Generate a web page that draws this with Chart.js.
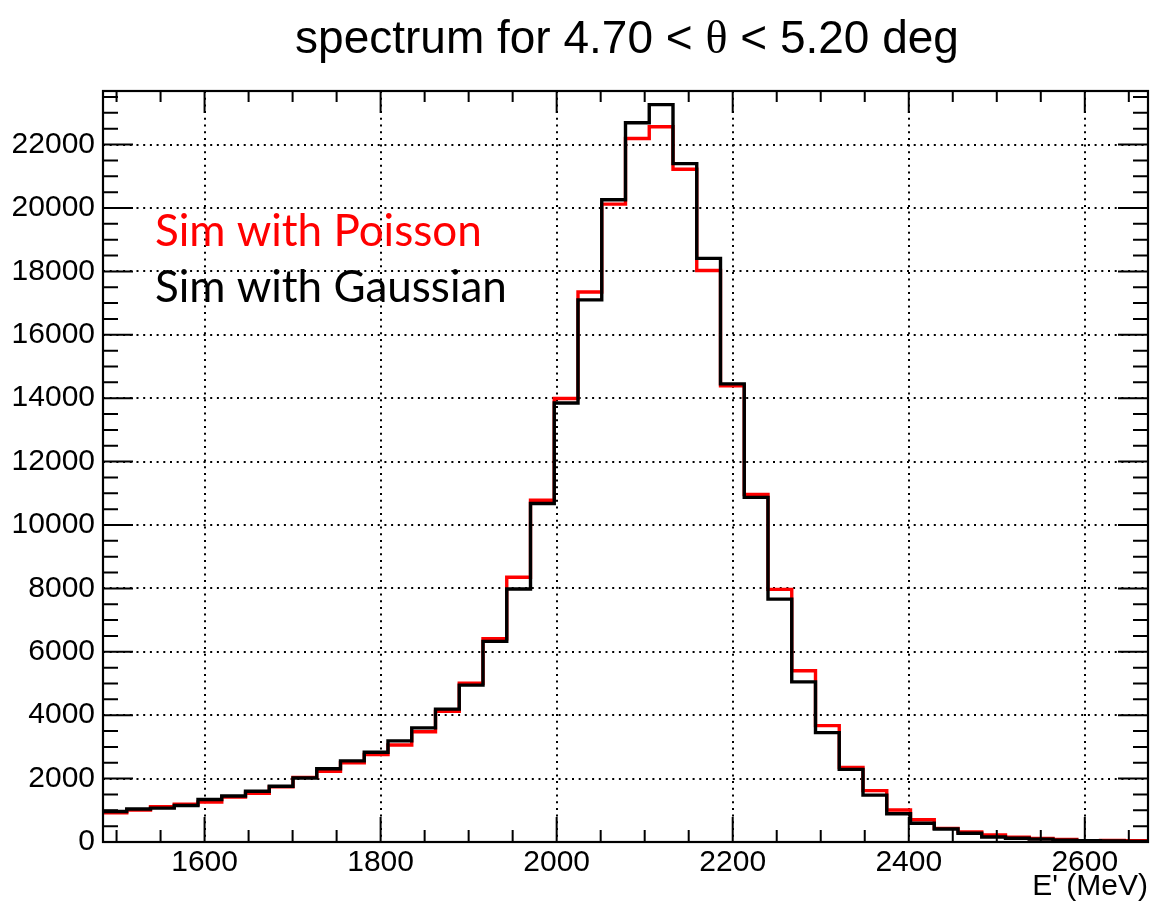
<!DOCTYPE html>
<html><head><meta charset="utf-8">
<script src="https://cdn.jsdelivr.net/npm/chart.js@4.4.1/dist/chart.umd.min.js"></script>
<style>html,body{margin:0;padding:0;background:#fff;}#wrap{width:1152px;height:909px;position:relative;}canvas{display:block;}</style>
</head><body><div id="wrap"><canvas id="c" width="1152" height="909"></canvas></div>
<script>
// Histogram definition (44 bins)
const xMin = 1484.6, xMax = 2671.8, nBins = 44;
const yMax = 23690;
// Bin contents
const poissonCounts = [920,1010,1110,1190,1260,1420,1540,1740,2040,2230,2500,2760,3060,3480,4120,5010,6410,8350,10780,13990,17350,20120,22190,22560,21220,18030,14390,10960,7970,5400,3670,2350,1620,1010,700,430,320,220,150,110,80,40,50,40];
const gaussianCounts = [960,1040,1070,1150,1340,1450,1600,1760,2020,2310,2560,2830,3190,3600,4190,4950,6330,7980,10680,13850,17100,20260,22690,23260,21400,18410,14450,10870,7660,5050,3450,2290,1480,890,590,410,275,160,120,90,60,40,30,20];
const xTickLabels = [1600,1800,2000,2200,2400,2600];
const yTickLabels = [0,2000,4000,6000,8000,10000,12000,14000,16000,18000,20000,22000];
const seriesNames = ["Sim with Poisson","Sim with Gaussian"];
const seriesColors = ["#ff0000","#000000"];
const titleParts = ["spectrum for 4.70 < ","\u03b8"," < 5.20 deg"];
const xTitle = "E' (MeV)";

const binW = (xMax - xMin) / nBins;
function stepPoints(counts){
  const pts = counts.map((v,i)=>({x: xMin + i*binW, y: v}));
  pts.push({x: xMax, y: counts[counts.length-1]});
  return pts;
}

const SANS = "'Liberation Sans', Arial, Helvetica, sans-serif";

const framePlugin = {
  id: 'rootFrame',
  afterDraw(chart){
    const ctx = chart.ctx, a = chart.chartArea;
    const xs = chart.scales.x, ys = chart.scales.y;
    ctx.save();
    ctx.strokeStyle = '#000';
    ctx.lineWidth = 2;
    // ticks
    ctx.beginPath();
    for (let v = 1500; v <= xMax; v += 50){
      const px = xs.getPixelForValue(v);
      if (px < a.left || px > a.right) continue;
      const major = (v % 200) === 0;
      const lb = major ? 25 : 12, lt = major ? 22 : 11;
      ctx.moveTo(px, a.bottom); ctx.lineTo(px, a.bottom - lb);
      ctx.moveTo(px, a.top); ctx.lineTo(px, a.top + lt);
    }
    for (let v = 0; v <= yMax; v += 500){
      const py = ys.getPixelForValue(v);
      const major = (v % 2000) === 0;
      const l = major ? 30 : 15;
      ctx.moveTo(a.left, py); ctx.lineTo(a.left + l, py);
      ctx.moveTo(a.right, py); ctx.lineTo(a.right - l, py);
    }
    ctx.stroke();
    // frame
    ctx.lineWidth = 2.2;
    ctx.strokeRect(a.left, a.top, a.right - a.left, a.bottom - a.top);
    // title (mixed fonts)
    const fs = 46;
    const fSans = fs + 'px ' + SANS;
    const fSerif = fs + "px 'Liberation Serif', 'Times New Roman', serif";
    const fonts = [fSans, fSerif, fSans];
    let total = 0; const widths = [];
    titleParts.forEach((t,i)=>{ ctx.font = fonts[i]; const w = ctx.measureText(t).width; widths.push(w); total += w; });
    let x = 627 - total/2;
    ctx.fillStyle = '#000';
    ctx.textBaseline = 'alphabetic';
    ctx.textAlign = 'left';
    titleParts.forEach((t,i)=>{ ctx.font = fonts[i]; ctx.fillText(t, x, 53); x += widths[i]; });
    // legend texts
    ctx.font = "44px Lato, 'Open Sans', sans-serif";
    ctx.fillStyle = seriesColors[0];
    ctx.fillText(seriesNames[0], 155, 246);
    ctx.fillStyle = seriesColors[1];
    ctx.fillText(seriesNames[1], 155, 302);
    ctx.restore();
  }
};

new Chart(document.getElementById('c'), {
  type: 'line',
  data: {
    datasets: [
      { label: seriesNames[1], data: stepPoints(gaussianCounts), borderColor: seriesColors[1], borderWidth: 3.4, stepped: 'before', pointRadius: 0, fill: false, borderJoinStyle: 'miter', borderCapStyle: 'butt' },
      { label: seriesNames[0], data: stepPoints(poissonCounts), borderColor: seriesColors[0], borderWidth: 3.4, stepped: 'before', pointRadius: 0, fill: false, borderJoinStyle: 'miter', borderCapStyle: 'butt' }
    ]
  },
  options: {
    responsive: false,
    animation: false,
    events: [],
    layout: { padding: { top: 91, right: 4, left: 0, bottom: 0 } },
    plugins: { legend: { display: false }, title: { display: false }, tooltip: { enabled: false } },
    scales: {
      x: {
        type: 'linear', min: xMin, max: xMax,
        afterBuildTicks: s => { s.ticks = xTickLabels.map(v => ({ value: v })); },
        afterFit: s => { s.height = 67; },
        grid: { color: '#000', lineWidth: 2, drawTicks: false },
        border: { display: false, dash: [2, 4.7] },
        ticks: { color: '#000', font: { family: SANS, size: 30 }, padding: 3, maxRotation: 0, autoSkip: false, callback: v => String(v) },
        title: { display: true, text: xTitle, align: 'end', color: '#000', font: { family: SANS, size: 30 }, padding: { top: 0, bottom: 4 } }
      },
      y: {
        type: 'linear', min: 0, max: yMax,
        afterBuildTicks: s => { s.ticks = yTickLabels.map(v => ({ value: v })); },
        afterFit: s => { s.width = 103; },
        grid: { color: '#000', lineWidth: 2, drawTicks: false },
        border: { display: false, dash: [2, 4.7] },
        ticks: { color: '#000', font: { family: SANS, size: 30 }, padding: 8, autoSkip: false, callback: v => String(v) }
      }
    }
  },
  plugins: [framePlugin]
});
</script>
</body></html>
